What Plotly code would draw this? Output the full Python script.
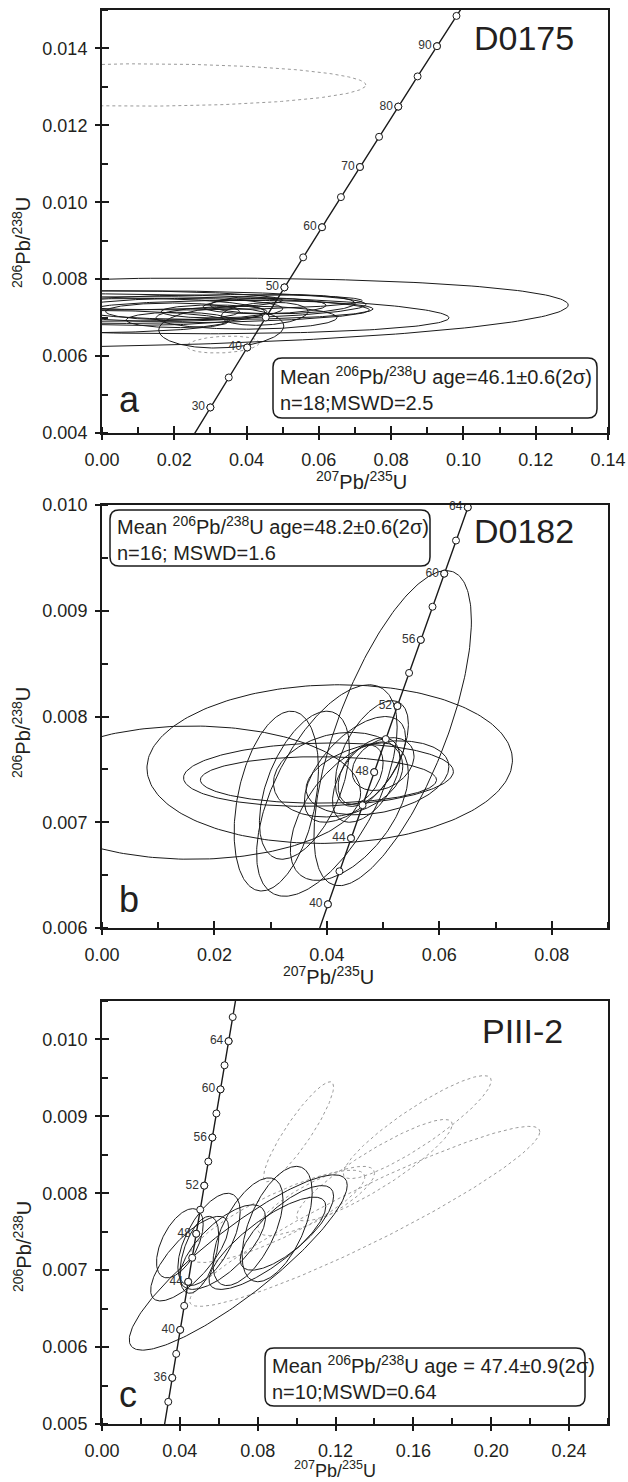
import numpy as np
import plotly.graph_objects as go

FONT = "Liberation Sans, Arial, Helvetica, sans-serif"

# ---------------- data ----------------
# Error ellipses: centre x (207Pb/235U), x half-width, centre y (206Pb/238U), y half-width, correlation
# Panel a  (D0175)
a_x   = [0.000, 0.010, 0.000, 0.005, 0.030, 0.035, 0.033, 0.0195, 0.021, 0.031, 0.045, 0.050, 0.040, 0.000, -0.010, 0.010, 0.020, 0.045]
a_sx  = [0.129, 0.086, 0.073, 0.069, 0.042, 0.040, 0.0173, 0.0185, 0.0143, 0.0146, 0.017, 0.020, 0.025, 0.050, 0.045, 0.035, 0.030, 0.012]
a_y   = [0.00713, 0.00710, 0.00730, 0.00720, 0.00740, 0.00720, 0.00673, 0.00716, 0.00694, 0.00716, 0.00730, 0.00735, 0.00700, 0.00745, 0.00690, 0.00715, 0.00720, 0.00710]
a_sy  = [0.00090, 0.00052, 0.00040, 0.00035, 0.00020, 0.00025, 0.00052, 0.00022, 0.00020, 0.00017, 0.00020, 0.00025, 0.00030, 0.00025, 0.00030, 0.00035, 0.00030, 0.00030]
a_rho = [0.22, -0.20, 0.10, 0.00, 0.20, 0.10, 0.10, 0.00, 0.00, 0.00, 0.10, 0.10, 0.00, 0.00, 0.00, 0.00, 0.10, 0.20]
# rejected analyses (grey dashed)
ag_x   = [0.010, 0.0335]
ag_sx  = [0.063, 0.010]
ag_y   = [0.01305, 0.00630]
ag_sy  = [0.00055, 0.00022]
ag_rho = [0.0, 0.2]

# Panel b  (D0182)
b_x   = [0.016, 0.0405, 0.0385, 0.0385, 0.0517, 0.031, 0.036, 0.049, 0.045, 0.047, 0.044, 0.040, 0.048, 0.050, 0.042, 0.046]
b_sx  = [0.030, 0.0325, 0.024, 0.021, 0.0140, 0.0075, 0.008, 0.0127, 0.009, 0.006, 0.0105, 0.0125, 0.0065, 0.0055, 0.0115, 0.004]
b_y   = [0.00728, 0.00755, 0.00745, 0.00740, 0.00789, 0.00720, 0.00735, 0.00742, 0.00750, 0.00740, 0.00710, 0.00730, 0.00765, 0.00755, 0.00745, 0.00745]
b_sy  = [0.00063, 0.00075, 0.00030, 0.00022, 0.00149, 0.00085, 0.00070, 0.00035, 0.00050, 0.00040, 0.00065, 0.00100, 0.00050, 0.00025, 0.00040, 0.00028]
b_rho = [0.0, 0.05, 0.1, 0.0, 0.68, 0.35, 0.5, 0.3, 0.6, 0.5, 0.55, 0.6, 0.55, 0.3, 0.2, 0.4]

# Panel c  (PIII-2)
c_x   = [0.070, 0.045, 0.055, 0.040, 0.062, 0.075, 0.090, 0.095, 0.050, 0.085]
c_sx  = [0.056, 0.020, 0.016, 0.012, 0.022, 0.018, 0.018, 0.024, 0.010, 0.030]
c_y   = [0.00710, 0.00715, 0.00740, 0.00735, 0.00730, 0.00750, 0.00760, 0.00755, 0.00720, 0.00735]
c_sy  = [0.00114, 0.00055, 0.00060, 0.00045, 0.00055, 0.00070, 0.00075, 0.00055, 0.00050, 0.00060]
c_rho = [0.88, 0.75, 0.60, 0.55, 0.70, 0.60, 0.55, 0.75, 0.50, 0.80]
cg_x   = [0.162, 0.135, 0.140, 0.101, 0.090, 0.110]
cg_sx  = [0.038, 0.090, 0.040, 0.018, 0.045, 0.030]
cg_y   = [0.00886, 0.00770, 0.00830, 0.00880, 0.00770, 0.00790]
cg_sy  = [0.00067, 0.00117, 0.00066, 0.00065, 0.00060, 0.00045]
cg_rho = [0.90, 0.94, 0.90, 0.90, 0.85, 0.80]

# Concordia age markers (Ma) and labelled ages
a_ages   = [30, 35, 40, 45, 50, 55, 60, 65, 70, 75, 80, 85, 90, 95]
a_labels = [30, 40, 50, 60, 70, 80, 90]
b_ages   = [40, 42, 44, 46, 48, 50, 52, 54, 56, 58, 60, 62, 64]
b_labels = [40, 44, 48, 52, 56, 60, 64]
c_ages   = [34, 36, 38, 40, 42, 44, 46, 48, 50, 52, 54, 56, 58, 60, 62, 64, 66]
c_labels = [36, 40, 44, 48, 52, 56, 60, 64]

sample_names = ["D0175", "D0182", "PIII-2"]
panel_letters = ["a", "b", "c"]
mean_texts = [
    "Mean <sup>206</sup>Pb/<sup>238</sup>U age=46.1±0.6(2σ)<br>n=18;MSWD=2.5",
    "Mean <sup>206</sup>Pb/<sup>238</sup>U age=48.2±0.6(2σ)<br>n=16; MSWD=1.6",
    "Mean <sup>206</sup>Pb/<sup>238</sup>U age = 47.4±0.9(2σ)<br>n=10;MSWD=0.64",
]
x_title = "<sup>207</sup>Pb/<sup>235</sup>U"
y_title = "<sup>206</sup>Pb/<sup>238</sup>U"

# ---------------- helpers ----------------
L238 = 1.55125e-4   # decay constants per Ma
L235 = 9.8485e-4


def concordia(t):
    t = np.asarray(t, dtype=float)
    return np.expm1(L235 * t), np.expm1(L238 * t)


def ellipse_group(xs, sxs, ys, sys_, rhos):
    th = np.linspace(0, 2 * np.pi, 241)
    X, Y = [], []
    for cx, sx, cy, sy, r in zip(xs, sxs, ys, sys_, rhos):
        X += list(cx + sx * np.cos(th)) + [None]
        Y += list(cy + sy * (r * np.cos(th) + np.sqrt(1 - r * r) * np.sin(th))) + [None]
    return X, Y


W, H = 628, 1482
PL, PR, PT, PB = 102, 608, 10, 1424   # plot area in page pixels


def px(x):
    return (x - PL) / (PR - PL)


def py(y):
    return (PB - y) / (PB - PT)


panels = [
    dict(xr=[0, 0.14], yr=[0.004, 0.015], xd=0.02, xm=0.01, yd=0.002, ym=0.001,
         top=10, bot=433, ell=(a_x, a_sx, a_y, a_sy, a_rho), grey=(ag_x, ag_sx, ag_y, ag_sy, ag_rho),
         ages=a_ages, labels=a_labels, trange=(20, 100), xto=47, xts=20,
         box=(273, 358, 597, 418), xtc=361, ytc=243, name_y=38, name_x=576, letter_y=400),
    dict(xr=[0, 0.09], yr=[0.006, 0.010], xd=0.02, xm=0.01, yd=0.001, ym=0.0005,
         top=505, bot=928, ell=(b_x, b_sx, b_y, b_sy, b_rho), grey=None,
         ages=b_ages, labels=b_labels, trange=(35, 70), xto=47, xts=20,
         box=(110, 510, 430, 566), xtc=328, ytc=733, name_y=531, name_x=576, letter_y=899),
    dict(xr=[0, 0.26], yr=[0.005, 0.0105], xd=0.04, xm=0.02, yd=0.001, ym=0.0005,
         top=1001, bot=1424, ell=(c_x, c_sx, c_y, c_sy, c_rho), grey=(cg_x, cg_sx, cg_y, cg_sy, cg_rho),
         ages=c_ages, labels=c_labels, trange=(30, 70), xto=45, xts=18,
         box=(265, 1348, 585, 1406), xtc=335, ytc=1247, name_y=1031, name_x=565, letter_y=1394),
]

fig = go.Figure()
layout = dict(
    width=W, height=H,
    margin=dict(l=PL, r=W - PR, t=PT, b=H - PB, autoexpand=False),
    paper_bgcolor="white", plot_bgcolor="white", showlegend=False,
    font=dict(family=FONT, color="#231f20"),
)
annotations, shapes = [], []

for i, p in enumerate(panels):
    n = i + 1
    sfx = "" if n == 1 else str(n)
    xa, ya = "x" + sfx, "y" + sfx
    ox, oy = "x" + str(n + 3), "y" + str(n + 3)
    dom = [py(p["bot"]), min(1.0, py(p["top"]))]

    # grey rejected ellipses
    if p["grey"] is not None:
        gx, gy = ellipse_group(*p["grey"])
        fig.add_trace(go.Scatter(x=gx, y=gy, mode="lines", xaxis=xa, yaxis=ya, hoverinfo="skip",
                                 line=dict(color="#9a9a9a", width=1, dash="dot")))
    ex, ey = ellipse_group(*p["ell"])
    fig.add_trace(go.Scatter(x=ex, y=ey, mode="lines", xaxis=xa, yaxis=ya, hoverinfo="skip",
                             line=dict(color="#1a1a1a", width=1)))

    # concordia curve and age markers
    tt = np.linspace(p["trange"][0], p["trange"][1], 300)
    cx, cy = concordia(tt)
    fig.add_trace(go.Scatter(x=cx, y=cy, mode="lines", xaxis=xa, yaxis=ya, hoverinfo="skip",
                             line=dict(color="#1a1a1a", width=1.4)))
    mx, my = concordia(p["ages"])
    fig.add_trace(go.Scatter(x=mx, y=my, mode="markers", xaxis=xa, yaxis=ya,
                             cliponaxis=False, hoverinfo="skip",
                             marker=dict(size=7, color="white", line=dict(color="#1a1a1a", width=1))))
    lx, ly = concordia(p["labels"])
    fig.add_trace(go.Scatter(x=lx, y=ly, mode="markers+text", xaxis=xa, yaxis=ya,
                             text=[str(a) for a in p["labels"]],
                             textposition="middle left", cliponaxis=False, hoverinfo="skip",
                             textfont=dict(size=12, color="#333333", family=FONT),
                             marker=dict(size=7, color="white", line=dict(color="#1a1a1a", width=1))))
    # dummy trace for the overlay (inside tick) axes
    fig.add_trace(go.Scatter(x=[p["xr"][0]], y=[p["yr"][0]], mode="markers", xaxis=ox, yaxis=oy,
                             marker=dict(opacity=0), hoverinfo="skip"))

    common = dict(showgrid=False, zeroline=False, showline=True, linecolor="#1a1a1a", linewidth=2,
                  mirror=True, ticks="outside", ticklen=5, tickwidth=1.5, tickcolor="#1a1a1a",
                  tickfont=dict(size=18, family=FONT, color="#231f20"), ticklabelstandoff=4,
                  automargin=False)
    layout["xaxis" + sfx] = dict(common, range=p["xr"], dtick=p["xd"], tick0=0, tickformat=".2f",
                                 anchor=ya, domain=[0, 1],
                                 minor=dict(dtick=p["xm"], tick0=0, ticks="inside", ticklen=6,
                                            tickwidth=1.5, tickcolor="#1a1a1a", showgrid=False))
    layout["yaxis" + sfx] = dict(common, range=p["yr"], dtick=p["yd"], tick0=0, tickformat=".3f",
                                 anchor=xa, domain=dom,
                                 minor=dict(dtick=p["ym"], tick0=0, ticks="inside", ticklen=6,
                                            tickwidth=1.5, tickcolor="#1a1a1a", showgrid=False))
    ov = dict(showgrid=False, zeroline=False, showline=False, showticklabels=False,
              ticks="inside", ticklen=7, tickwidth=1.5, tickcolor="#1a1a1a")
    layout["xaxis" + str(n + 3)] = dict(ov, range=p["xr"], dtick=p["xd"], tick0=0,
                                        overlaying=xa, anchor=oy, side="bottom")
    layout["yaxis" + str(n + 3)] = dict(ov, range=p["yr"], dtick=p["yd"], tick0=0,
                                        overlaying=ya, anchor=ox, side="left")

    # rounded text box with the mean age
    x0, y0, x1, y1 = p["box"]
    r = 9
    path = (f"M {px(x0 + r)},{py(y0)} L {px(x1 - r)},{py(y0)} Q {px(x1)},{py(y0)} {px(x1)},{py(y0 + r)} "
            f"L {px(x1)},{py(y1 - r)} Q {px(x1)},{py(y1)} {px(x1 - r)},{py(y1)} "
            f"L {px(x0 + r)},{py(y1)} Q {px(x0)},{py(y1)} {px(x0)},{py(y1 - r)} "
            f"L {px(x0)},{py(y0 + r)} Q {px(x0)},{py(y0)} {px(x0 + r)},{py(y0)} Z")
    shapes.append(dict(type="path", path=path, xref="paper", yref="paper",
                       line=dict(color="#1a1a1a", width=1.5), fillcolor="rgba(255,255,255,0)"))
    annotations.append(dict(text=mean_texts[i], xref="paper", yref="paper", x=px(x0 + 5),
                            y=py((y0 + y1) / 2), xanchor="left", yanchor="middle", align="left",
                            showarrow=False, font=dict(size=20, family=FONT, color="#231f20")))
    # sample name and panel letter
    annotations.append(dict(text=sample_names[i], xref="paper", yref="paper", x=px(p["name_x"]),
                            y=py(p["name_y"]), xanchor="right", yanchor="middle", showarrow=False,
                            font=dict(size=34, family=FONT, color="#231f20")))
    annotations.append(dict(text=panel_letters[i], xref="paper", yref="paper", x=px(117),
                            y=py(p["letter_y"]), xanchor="left", yanchor="middle", showarrow=False,
                            font=dict(size=36, family=FONT, color="#231f20")))
    # axis titles
    annotations.append(dict(text=x_title, xref="paper", yref="paper", x=px(p["xtc"]),
                            y=py(p["bot"] + p["xto"]), xanchor="center", yanchor="middle",
                            showarrow=False, font=dict(size=p["xts"], family=FONT, color="#231f20")))
    annotations.append(dict(text=y_title, xref="paper", yref="paper", x=px(22),
                            y=py(p["ytc"]), xanchor="center", yanchor="middle", showarrow=False,
                            textangle=-90, font=dict(size=20, family=FONT, color="#231f20")))

layout["annotations"] = annotations
layout["shapes"] = shapes
fig.update_layout(**layout)
fig.write_html("out.html", config={"displayModeBar": False},
               post_script="document.body.style.margin='0';document.body.style.overflow='hidden';")
